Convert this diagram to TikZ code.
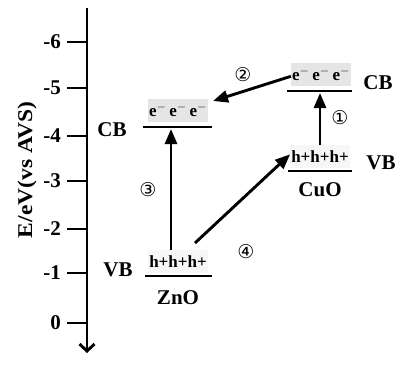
\documentclass[tikz,border=0pt]{standalone}
\usepackage{fontspec}
\setmainfont{Liberation Serif}
\newfontfamily\circfont{DejaVu Sans}
\usetikzlibrary{arrows.meta}
\begin{document}
\begin{tikzpicture}[x=1pt,y=-1pt,
  band/.style={line width=2.9pt},
  tickline/.style={line width=2.9pt},
  lbl/.style={font=\fontsize{21}{21}\selectfont\bfseries, inner sep=0pt},
  carrier/.style={font=\fontsize{17}{17}\selectfont\bfseries, inner sep=1pt, minimum height=23pt},
  efill/.style={fill=gray!20},
  hfill/.style={fill=gray!6},
  circ/.style={font=\circfont\fontsize{19}{19}\selectfont, inner sep=0pt},
  tr/.style={line width=2.9pt, -{Triangle[length=15pt,width=12pt]}},
]
\useasboundingbox (0,0) rectangle (403,383);
% axis
\coordinate (axtop) at (87,8);
\coordinate (axbot) at (87,353);
\draw[line width=2.9pt, -{Straight Barb[length=7pt,width=15pt]}] (axtop) -- (axbot);
\foreach \n/\v/\y in {a/-6/42,b/-5/88,c/-4/136,d/-3/181,e/-2/229,f/-1/273,g/0/323}{
  \coordinate (tk\n) at (87,\y);
  \node[lbl, anchor=east] (tl\n) at (61,\y) {\v};
  \draw[tickline] (tl\n.east) ++(6,0) -- (tk\n);
}
\node[lbl, rotate=90] (axlabel) at (27,170) {\scalebox{1.12}[1]{E/eV(vs AVS)}};
% ZnO
\coordinate (zcbL) at (143,127);
\coordinate (zcbR) at (212,127);
\draw[band] (zcbL) -- (zcbR);
\node[carrier, efill, anchor=south] (ze) at (178,122) {e$^{-}$\,e$^{-}$\,e$^{-}$};
\node[lbl] (zcb) at (112,130) {CB};
\coordinate (zvbL) at (145,276);
\coordinate (zvbR) at (212,276);
\draw[band] (zvbL) -- (zvbR);
\node[carrier, hfill, anchor=south] (zh) at (178,273) {h+h+h+};
\node[lbl] (zvb) at (118,270) {VB};
\node[lbl] (zno) at (178,298) {ZnO};
% CuO
\coordinate (ccbL) at (287,91);
\coordinate (ccbR) at (352,91);
\draw[band] (ccbL) -- (ccbR);
\node[carrier, efill, anchor=south] (ce) at (321,86) {e$^{-}$\,e$^{-}$\,e$^{-}$};
\node[lbl] (ccb) at (378,83) {CB};
\coordinate (cvbL) at (288,171);
\coordinate (cvbR) at (352,171);
\draw[band] (cvbL) -- (cvbR);
\node[carrier, hfill, anchor=south] (ch) at (320,168) {h+h+h+};
\node[lbl] (cvb) at (381,163) {VB};
\node[lbl] (cuo) at (320,190) {CuO};
% transitions
\coordinate (z3end) at (171,129);
\draw[tr] ([xshift=-7pt]zh.north) -- (z3end);
\node[circ] (n3) at (148,190) {③};
\coordinate (c1end) at (320,93);
\draw[tr] (ch.north) -- (c1end);
\node[circ] (n1) at (340,118) {①};
\coordinate (e2end) at (213,101);
\draw[tr] ([yshift=-2pt]ce.west) -- (e2end);
\node[circ] (n2) at (243,75) {②};
\coordinate (h4start) at (195,243);
\draw[tr] (h4start) -- ([yshift=2pt]ch.west);
\node[circ] (n4) at (246,252) {④};
\end{tikzpicture}
\end{document}
